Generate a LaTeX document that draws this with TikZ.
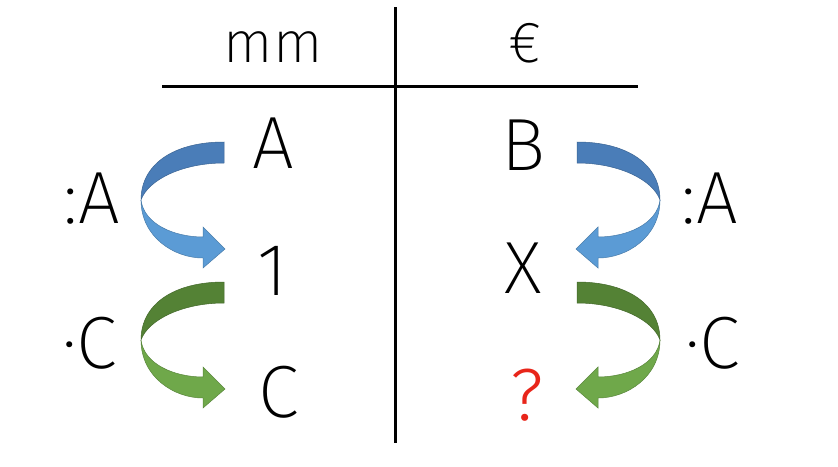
\documentclass[tikz,border=0pt]{standalone}
\usepackage{fontspec}
\setmainfont{Fira Sans ExtraLight}
\newfontfamily\qfont{Fira Sans Light}
\usetikzlibrary{positioning}

\definecolor{bluedark}{HTML}{4A7DB8}
\definecolor{bluelight}{HTML}{5B9BD5}
\definecolor{greendark}{HTML}{548235}
\definecolor{greenlight}{HTML}{6FA84A}
\definecolor{qred}{HTML}{E8251A}

\tikzset{
  sym/.style={inner sep=0pt, anchor=base, font=\fontsize{74}{74}\selectfont},
  head/.style={inner sep=0pt, anchor=base, font=\fontsize{58}{58}\selectfont},
  rule/.style={line width=3pt},
}

% bent arrow: #1 tail point, #2 xscale, #3 dark colour, #4 light colour
\newcommand{\bendarrow}[4]{
  \begin{scope}[shift={#1}, xscale=#2]
    \filldraw[fill=#3, draw=#3!80!black, line width=0.5pt]
      (0,0) .. controls (-50,0) and (-83,22) .. (-83,58)
      .. controls (-76,38) and (-42,21) .. (0,21) -- cycle;
    \filldraw[fill=#4, draw=#4!80!black, line width=0.5pt]
      (-83,58) .. controls (-83,95) and (-50,116) .. (-21,116)
      -- (-21,126) -- (1,107) -- (-21,85) -- (-21,95)
      .. controls (-50,95) and (-80,82) .. (-83,58) -- cycle;
  \end{scope}
}

\begin{document}
\begin{tikzpicture}[x=1pt, y=-1pt]
  \useasboundingbox (0,0) rectangle (838,466);

  %table rules
  \draw[rule] (162,86) -- (638,86);
  \draw[rule] (395,7) -- (395,443);

  %headings
  \node[head] (mm) at (273,62) {mm};
  \node[head] (euro) at (525,62) {€};

  %left column
  \node[sym] (a) at (273,168) {A};
  \node[sym] (one) at (273,295) {1};
  \node[sym] (c) at (279,417) {C};

  %right column
  \node[sym] (b) at (523,170) {B};
  \node[sym] (x) at (523,293) {X};
  \node[sym, text=qred] (q) at (527,420) {\qfont ?};

  %operations
  \node[sym] (divl) at (92,223) {:A};
  \node[sym] (mull) at (90,368) {·C};
  \node[sym] (divr) at (710,223) {:A};
  \node[sym] (mulr) at (713,368) {·C};

  %arrows
  \bendarrow{(224,142)}{1}{bluedark}{bluelight}
  \bendarrow{(224,282)}{1}{greendark}{greenlight}
  \bendarrow{(577,142)}{-1}{bluedark}{bluelight}
  \bendarrow{(577,282)}{-1}{greendark}{greenlight}
\end{tikzpicture}
\end{document}
